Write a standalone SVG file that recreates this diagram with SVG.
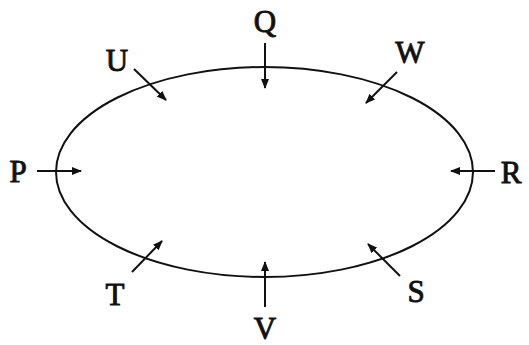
<svg xmlns="http://www.w3.org/2000/svg" width="529" height="345" viewBox="0 0 529 345">
<style>
.lbl{font-family:"Liberation Serif","Times New Roman",serif;font-size:31px;font-weight:normal;fill:#111;stroke:#111;stroke-width:0.9;text-anchor:middle}
.ar{stroke:#111;stroke-width:2;fill:none;marker-end:url(#ah)}
</style>
<defs>
<marker id="ah" viewBox="0 0 10 8" refX="9" refY="4" markerWidth="5" markerHeight="4" orient="auto" markerUnits="strokeWidth">
<path d="M0,0 L10,4 L0,8 Z" fill="#111"/>
</marker>
</defs>
<rect width="529" height="345" fill="#fff"/>
<g id="ring">
<ellipse cx="264.5" cy="172" rx="208.5" ry="105" fill="none" stroke="#111" stroke-width="2"/>
</g>
<g id="connectors">
<line class="ar" x1="265" y1="43" x2="265" y2="88"/>
<line class="ar" x1="265" y1="307" x2="265" y2="262"/>
<line class="ar" x1="37" y1="171" x2="81" y2="171"/>
<line class="ar" x1="495" y1="171" x2="451" y2="171"/>
<line class="ar" x1="134" y1="69" x2="166" y2="100"/>
<line class="ar" x1="397" y1="72" x2="366" y2="103"/>
<line class="ar" x1="132" y1="272" x2="162" y2="241"/>
<line class="ar" x1="400" y1="276" x2="368" y2="244"/>
</g>
<g id="Q"><text class="lbl" x="265" y="32">Q</text></g>
<g id="U"><text class="lbl" x="117" y="71">U</text></g>
<g id="W"><text class="lbl" x="410" y="63">W</text></g>
<g id="P"><text class="lbl" x="18" y="182">P</text></g>
<g id="R"><text class="lbl" x="511" y="183">R</text></g>
<g id="T"><text class="lbl" x="115" y="305">T</text></g>
<g id="V"><text class="lbl" x="265" y="339">V</text></g>
<g id="S"><text class="lbl" x="416" y="302">S</text></g>
</svg>
